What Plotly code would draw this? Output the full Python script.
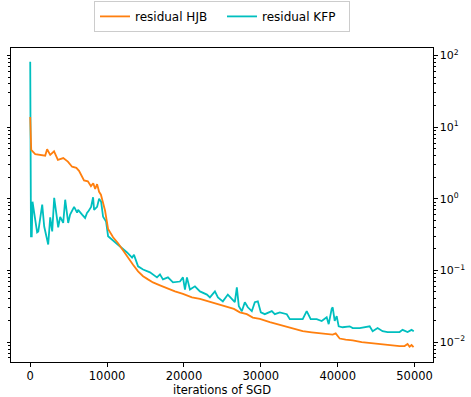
import plotly.graph_objects as go

hjb_iter = [0, 130, 650, 1300, 1950, 2200, 2600, 3100, 3600, 4300, 4900, 5450, 6000, 6350, 7000,
            7500, 7900, 8200, 8450, 8700, 8960, 9200, 9740, 10130, 10780, 11430, 12080, 12730,
            13380, 14030, 14680, 15320, 15970, 16880, 17790, 18830, 19870, 21040, 22080, 23120,
            24290, 25710, 26500, 27270, 28180, 28960, 29870, 31170, 32470, 33380, 34400, 35450,
            36620, 37660, 38570, 39350, 39740, 40260, 41040, 41950, 43120, 44160, 45190, 46360,
            47400, 48050, 48700, 49090, 49350, 49610, 49870]
hjb_vals = [13.8, 4.8, 4.2, 4.1, 4.0, 4.9, 4.1, 4.6, 3.5, 3.7, 3.3, 2.8, 2.7, 2.45, 1.8,
            1.75, 1.5, 1.65, 1.37, 1.6, 1.25, 1.14, 0.68, 0.38, 0.29, 0.24, 0.19, 0.147,
            0.12, 0.097, 0.083, 0.075, 0.068, 0.062, 0.056, 0.051, 0.047, 0.042, 0.040, 0.037,
            0.034, 0.031, 0.029, 0.026, 0.0245, 0.022, 0.021, 0.019, 0.0173, 0.0163, 0.0152, 0.0142,
            0.0137, 0.0133, 0.0131, 0.0127, 0.0132, 0.0112, 0.0108, 0.0106, 0.0100, 0.0097, 0.0094, 0.0091,
            0.0090, 0.0088, 0.0088, 0.0094, 0.0086, 0.0091, 0.0085]

kfp_iter = [0, 100, 200, 300, 650, 900, 1050, 1300, 1560, 1820, 2080, 2340, 2600, 2860, 3120,
            3510, 3640, 3900, 4290, 4550, 4810, 4940, 5190, 5450, 5710, 6100, 6230, 6750, 7140,
            7400, 7530, 7920, 8180, 8310, 8700, 8960, 9220, 9480, 9870, 10130, 10650, 11690,
            12600, 13250, 13500, 14030, 14680, 15580, 16490, 16880, 17270, 17920, 18570, 19480,
            19870, 20130, 20390, 20780, 21430, 22080, 22990, 23380, 24030, 24420, 25060, 25710,
            26230, 26620, 26880, 27140, 27530, 27920, 28310, 28830, 29220, 29610, 30000, 30520,
            31430, 31820, 32470, 33380, 33770, 34680, 35450, 35970, 36490, 37270, 37920, 38570,
            38830, 39220, 39350, 39610, 39870, 40130, 40650, 41560, 41950, 42860, 43770, 44160,
            44550, 45190, 45840, 46490, 47140, 48050, 48440, 49090, 49610, 49900]
kfp_vals = [82, 0.30, 0.30, 0.91, 0.51, 0.34, 0.35, 0.51, 0.83, 0.41, 0.32, 0.23, 0.55, 0.35, 1.03,
            0.48, 0.40, 0.56, 0.46, 0.97, 0.64, 0.46, 0.60, 0.70, 0.77, 0.64, 0.70, 0.60, 0.54,
            0.64, 0.66, 0.77, 1.05, 0.70, 0.77, 1.0, 0.91, 0.56, 0.48, 0.30, 0.27, 0.215,
            0.178, 0.151, 0.165, 0.114, 0.103, 0.094, 0.080, 0.088, 0.075, 0.080, 0.068, 0.070,
            0.080, 0.054, 0.080, 0.054, 0.060, 0.051, 0.046, 0.042, 0.051, 0.042, 0.037, 0.046,
            0.040, 0.036, 0.058, 0.0316, 0.027, 0.036, 0.0306, 0.027, 0.036, 0.037, 0.026, 0.0245,
            0.027, 0.0245, 0.026, 0.0245, 0.0209, 0.0209, 0.0209, 0.027, 0.0209, 0.0209, 0.0197, 0.0222,
            0.0178, 0.029, 0.0306, 0.0197, 0.023, 0.0166, 0.0161, 0.0166, 0.0157, 0.0157, 0.0161, 0.0166,
            0.0142, 0.0157, 0.0142, 0.0138, 0.0138, 0.0138, 0.0148, 0.0138, 0.0148, 0.0142]

x_ticks = [0, 10000, 20000, 30000, 40000, 50000]
x_ticktext = ["0", "10000", "20000", "30000", "40000", "50000"]
y_ticks = [0.01, 0.1, 1, 10, 100]
y_ticktext = ["10<sup>\u22122</sup>", "10<sup>\u22121</sup>", "10<sup>0</sup>",
              "10<sup>1</sup>", "10<sup>2</sup>"]
minor_mults = [2, 3, 4, 5, 6, 7, 8, 9]
decades = [0.001, 0.01, 0.1, 1, 10, 100]
y_minor = [d * m for d in decades for m in minor_mults]

FONT = "DejaVu Sans"
ORANGE = "#ff7f0e"
CYAN = "#00bfbf"

fig = go.Figure()
fig.add_trace(go.Scatter(x=hjb_iter, y=hjb_vals, mode="lines", name="residual HJB",
                         line=dict(color=ORANGE, width=1.8), yaxis="y2"))
fig.add_trace(go.Scatter(x=kfp_iter, y=kfp_vals, mode="lines", name="residual KFP",
                         line=dict(color=CYAN, width=1.8), yaxis="y"))

yr = [-2.278, 2.104]
minor = dict(tickvals=y_minor, ticks="outside", ticklen=2, tickwidth=0.6,
             tickcolor="black", showgrid=False)
fig.update_layout(
    width=471, height=397,
    margin=dict(l=11, r=38, t=47.5, b=35, autoexpand=False),
    paper_bgcolor="white", plot_bgcolor="white",
    font=dict(family=FONT, size=11.5, color="black"),
    showlegend=True,
    legend=dict(orientation="h", x=0.5, xanchor="center", y=1.15, yanchor="top",
                bordercolor="#cccccc", borderwidth=1, font=dict(size=12),
                entrywidth=82, itemwidth=30, tracegroupgap=0),
    xaxis=dict(range=[-2500, 52400], tickvals=x_ticks, ticktext=x_ticktext, ticks="outside",
               ticklen=3.5, tickwidth=0.8, tickcolor="black", showline=True, linecolor="black",
               linewidth=1, mirror=True, showgrid=False, zeroline=False,
               title=dict(text="iterations of SGD", standoff=4, font=dict(size=11.5))),
    yaxis=dict(type="log", range=yr, side="right", tickvals=y_ticks, ticktext=y_ticktext,
               ticks="outside", ticklen=3.5, tickwidth=0.8, tickcolor="black", showline=True,
               linecolor="black", linewidth=1, showgrid=False, zeroline=False, minor=minor,
               ticklabelstandoff=0, tickfont=dict(size=11)),
    yaxis2=dict(type="log", range=yr, side="left", overlaying="y", tickvals=y_ticks,
                showticklabels=False, ticks="outside", ticklen=3.5, tickwidth=0.8,
                tickcolor="black", showline=True, linecolor="black", linewidth=1,
                showgrid=False, zeroline=False, minor=minor),
)
fig.write_html("out.html", config={"displayModeBar": False},
               post_script="document.body.style.margin='0';")
